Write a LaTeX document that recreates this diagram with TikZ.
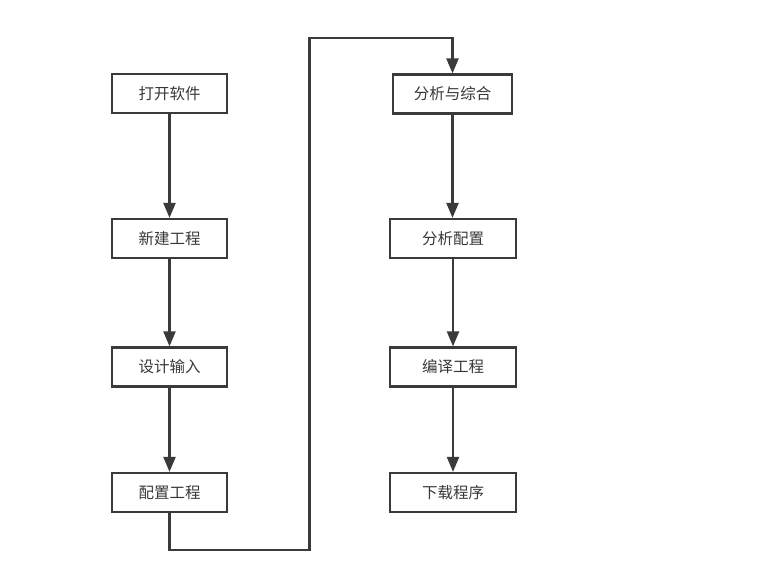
\documentclass[tikz,border=0pt]{standalone}
\usepackage{fontspec}
\setmainfont{Noto Sans CJK SC}
\usetikzlibrary{arrows.meta}
\definecolor{linegray}{HTML}{3A3A3A}
\definecolor{textgray}{HTML}{383838}

\tikzset{
  stepbox/.style={draw=linegray, line width=2.2pt, fill=white, minimum height=39pt,
    inner sep=0pt, text=textgray, font=\fontsize{15.5pt}{17pt}\selectfont},
  flow/.style={draw=linegray, line width=2.2pt, -{Triangle[length=15pt,width=12pt]}}
}

\begin{document}
\begin{tikzpicture}[x=1pt,y=-1pt]
        \useasboundingbox (0,0) rectangle (766,563);
        % left column
        \node[stepbox, minimum width=115pt] (open) at (169.5,93.5) {打开软件};
        \node[stepbox, minimum width=115pt] (new) at (169.5,238.5) {新建工程};
        \node[stepbox, minimum width=115pt] (input) at (169.5,367) {设计输入};
        \node[stepbox, minimum width=115pt] (config) at (169.5,492.5) {配置工程};
        % right column
        \node[stepbox, minimum width=119pt] (synth) at (452.5,94) {分析与综合};
        \node[stepbox, minimum width=126pt] (anacfg) at (453,238.5) {分析配置};
        \node[stepbox, minimum width=126pt] (compile) at (453,367) {编译工程};
        \node[stepbox, minimum width=126pt] (download) at (453,492.5) {下载程序};
        \draw[flow] (open) -- (new);
        \draw[flow] (new) -- (input);
        \draw[flow] (input) -- (config);
        \draw[flow] (config.south) -- (169.5,550) -- (309.5,550) -- (309.5,38) -- (452.5,38) -- (synth.north);
        \draw[flow] (synth.south) -- (synth.south |- anacfg.north);
        \draw[flow] (anacfg) -- (compile);
        \draw[flow] (compile) -- (download);
    \end{tikzpicture}
\end{document}
